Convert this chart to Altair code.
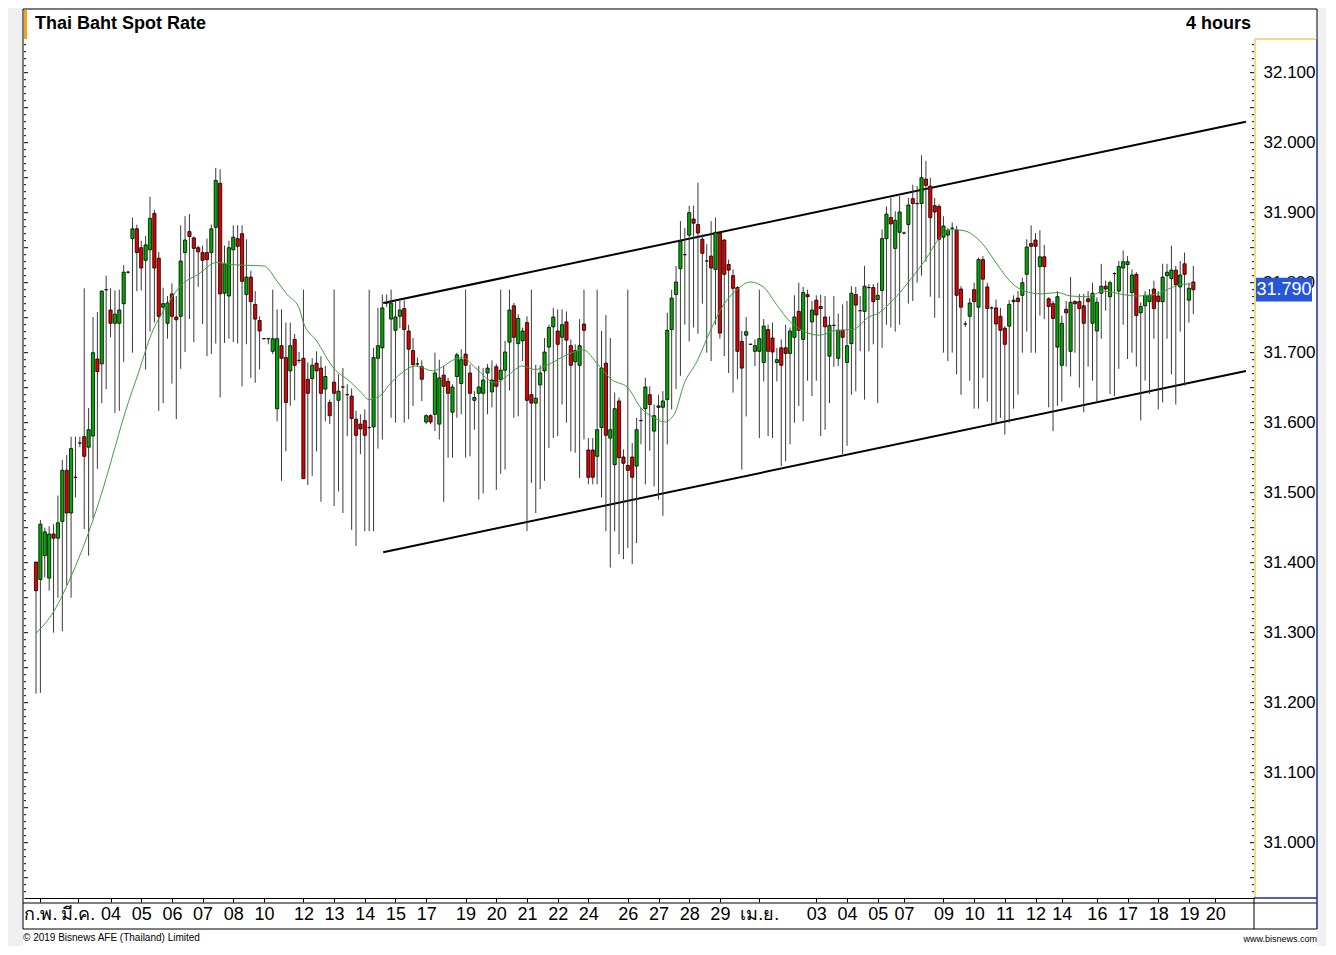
import altair as alt
import pandas as pd
import numpy as np

# ---------------- data ----------------
opens = [31.401,31.376,31.410,31.378,31.441,31.435,31.459,31.532,31.471,31.522,
         31.571,31.580,31.565,31.581,31.691,31.684,31.790,31.761,31.742,31.742,
         31.770,31.815,31.863,31.877,31.850,31.832,31.847,31.899,31.835,31.765,
         31.742,31.784,31.751,31.752,31.843,31.873,31.864,31.850,31.843,31.843,
         31.843,31.879,31.942,31.785,31.781,31.847,31.863,31.870,31.783,31.808,
         31.769,31.746,31.720,31.720,31.702,31.620,31.710,31.693,31.674,31.719,
         31.689,31.692,31.662,31.663,31.685,31.678,31.648,31.629,31.658,31.632,
         31.651,31.640,31.638,31.605,31.598,31.603,31.593,31.594,31.692,31.707,
         31.771,31.748,31.732,31.752,31.763,31.731,31.703,31.684,31.680,31.601,
         31.610,31.612,31.598,31.668,31.659,31.615,31.666,31.656,31.698,31.671,
         31.632,31.642,31.642,31.671,31.644,31.680,31.662,31.675,31.715,31.767,
         31.713,31.717,31.743,31.640,31.628,31.654,31.674,31.708,31.737,31.731,
         31.722,31.744,31.710,31.687,31.682,31.741,31.561,31.561,31.552,31.593,
         31.685,31.578,31.540,31.631,31.551,31.539,31.551,31.538,31.603,31.620,
         31.640,31.588,31.624,31.622,31.633,31.733,31.783,31.820,31.840,31.868,
         31.891,31.883,31.862,31.831,31.838,31.819,31.871,31.861,31.826,31.810,
         31.793,31.716,31.725,31.712,31.702,31.702,31.686,31.733,31.721,31.686,
         31.707,31.707,31.699,31.722,31.759,31.719,31.783,31.744,31.775,31.766,
         31.751,31.695,31.739,31.692,31.732,31.686,31.713,31.783,31.760,31.759,
         31.793,31.793,31.776,31.789,31.863,31.893,31.849,31.872,31.871,31.883,
         31.920,31.913,31.913,31.948,31.938,31.910,31.909,31.865,31.868,31.878,
         31.875,31.791,31.741,31.752,31.790,31.765,31.833,31.794,31.764,31.764,
         31.752,31.735,31.738,31.773,31.778,31.782,31.812,31.856,31.861,31.823,
         31.837,31.777,31.770,31.708,31.682,31.762,31.702,31.773,31.773,31.767,
         31.777,31.742,31.731,31.785,31.795,31.780,31.813,31.788,31.821,31.826,
         31.786,31.812,31.757,31.767,31.773,31.791,31.781,31.773,31.810,31.806,
         31.818,31.794,31.827,31.775,31.801]
highs = [31.401,31.461,31.450,31.452,31.455,31.496,31.547,31.554,31.580,31.580,
         31.580,31.792,31.621,31.751,31.758,31.789,31.810,31.792,31.789,31.790,
         31.825,31.817,31.893,31.883,31.860,31.867,31.923,31.904,31.844,31.793,
         31.781,31.799,31.781,31.882,31.895,31.898,31.866,31.853,31.853,31.863,
         31.883,31.964,31.962,31.853,31.860,31.882,31.882,31.882,31.862,31.817,
         31.788,31.752,31.721,31.720,31.790,31.762,31.762,31.743,31.743,31.727,
         31.701,31.790,31.686,31.692,31.702,31.695,31.681,31.633,31.790,31.669,
         31.678,31.655,31.649,31.617,31.612,31.619,31.790,31.707,31.764,31.783,
         31.783,31.790,31.776,31.774,31.775,31.740,31.721,31.693,31.689,31.612,
         31.612,31.700,31.690,31.681,31.664,31.655,31.700,31.705,31.790,31.683,
         31.645,31.681,31.678,31.684,31.689,31.684,31.790,31.717,31.790,31.771,
         31.755,31.736,31.752,31.790,31.683,31.682,31.721,31.740,31.764,31.762,
         31.762,31.759,31.719,31.712,31.748,31.790,31.578,31.578,31.790,31.731,
         31.754,31.721,31.643,31.636,31.562,31.790,31.571,31.607,31.621,31.664,
         31.652,31.626,31.640,31.645,31.757,31.790,31.824,31.888,31.878,31.910,
         31.910,31.943,31.869,31.855,31.888,31.893,31.874,31.862,31.833,31.819,
         31.795,31.731,31.751,31.713,31.719,31.790,31.748,31.740,31.743,31.707,
         31.719,31.740,31.736,31.782,31.800,31.794,31.790,31.774,31.782,31.783,
         31.781,31.752,31.781,31.756,31.769,31.774,31.795,31.794,31.781,31.824,
         31.798,31.798,31.800,31.876,31.909,31.921,31.902,31.924,31.873,31.921,
         31.940,31.938,31.982,31.974,31.950,31.921,31.912,31.895,31.878,31.886,
         31.881,31.795,31.745,31.778,31.800,31.836,31.838,31.800,31.766,31.776,
         31.764,31.738,31.775,31.782,31.788,31.807,31.862,31.882,31.871,31.875,
         31.854,31.779,31.774,31.788,31.753,31.774,31.808,31.775,31.784,31.784,
         31.788,31.800,31.779,31.827,31.803,31.803,31.815,31.831,31.846,31.838,
         31.819,31.815,31.772,31.788,31.791,31.803,31.788,31.827,31.827,31.853,
         31.824,31.831,31.843,31.800,31.824]
lows = [31.213,31.214,31.379,31.360,31.300,31.350,31.302,31.368,31.350,31.493,
        31.565,31.448,31.410,31.463,31.534,31.628,31.648,31.722,31.614,31.617,
        31.687,31.813,31.700,31.788,31.789,31.676,31.730,31.743,31.617,31.628,
        31.720,31.656,31.605,31.677,31.701,31.748,31.715,31.794,31.741,31.695,
        31.698,31.713,31.636,31.714,31.720,31.715,31.713,31.652,31.712,31.664,
        31.657,31.676,31.719,31.712,31.698,31.602,31.517,31.559,31.624,31.632,
        31.685,31.520,31.511,31.524,31.559,31.487,31.602,31.598,31.481,31.502,
        31.471,31.581,31.447,31.424,31.555,31.445,31.445,31.445,31.563,31.576,
        31.765,31.607,31.600,31.735,31.600,31.605,31.624,31.680,31.631,31.598,
        31.598,31.588,31.576,31.487,31.550,31.550,31.607,31.612,31.550,31.552,
        31.590,31.490,31.499,31.612,31.622,31.504,31.527,31.533,31.646,31.607,
        31.609,31.688,31.445,31.514,31.471,31.505,31.517,31.564,31.578,31.581,
        31.626,31.600,31.559,31.557,31.521,31.576,31.512,31.512,31.512,31.493,
        31.445,31.393,31.445,31.412,31.405,31.421,31.398,31.428,31.569,31.512,
        31.560,31.509,31.490,31.467,31.569,31.619,31.648,31.667,31.740,31.716,
        31.736,31.727,31.770,31.700,31.688,31.740,31.720,31.695,31.671,31.643,
        31.662,31.533,31.609,31.711,31.681,31.578,31.659,31.581,31.578,31.659,
        31.538,31.545,31.569,31.600,31.624,31.602,31.660,31.638,31.660,31.581,
        31.590,31.628,31.680,31.681,31.555,31.567,31.640,31.645,31.702,31.633,
        31.702,31.712,31.628,31.707,31.740,31.736,31.730,31.740,31.869,31.770,
        31.774,31.800,31.810,31.830,31.780,31.750,31.778,31.700,31.688,31.700,
        31.669,31.640,31.737,31.660,31.620,31.620,31.664,31.630,31.600,31.600,
        31.607,31.583,31.600,31.620,31.640,31.700,31.730,31.700,31.700,31.753,
        31.748,31.622,31.588,31.624,31.630,31.680,31.666,31.700,31.650,31.615,
        31.680,31.660,31.629,31.720,31.760,31.641,31.638,31.677,31.740,31.691,
        31.700,31.680,31.603,31.660,31.641,31.720,31.619,31.629,31.720,31.669,
        31.626,31.730,31.653,31.743,31.755]
closes = [31.360,31.455,31.444,31.441,31.435,31.457,31.532,31.471,31.563,31.522,
          31.571,31.552,31.590,31.700,31.673,31.788,31.790,31.742,31.755,31.761,
          31.815,31.815,31.877,31.843,31.821,31.854,31.892,31.821,31.752,31.770,
          31.771,31.752,31.747,31.831,31.861,31.866,31.849,31.844,31.832,31.833,
          31.877,31.946,31.784,31.827,31.850,31.865,31.852,31.802,31.808,31.773,
          31.748,31.731,31.720,31.720,31.720,31.720,31.692,31.629,31.710,31.682,
          31.689,31.520,31.642,31.682,31.674,31.642,31.666,31.610,31.642,31.645,
          31.651,31.640,31.606,31.582,31.591,31.582,31.593,31.693,31.710,31.764,
          31.771,31.771,31.751,31.761,31.733,31.705,31.683,31.684,31.662,31.610,
          31.601,31.671,31.664,31.652,31.642,31.651,31.697,31.690,31.682,31.642,
          31.636,31.651,31.661,31.678,31.661,31.652,31.675,31.701,31.761,31.722,
          31.749,31.731,31.632,31.628,31.635,31.671,31.701,31.736,31.751,31.712,
          31.740,31.718,31.682,31.703,31.710,31.732,31.522,31.522,31.590,31.678,
          31.582,31.590,31.620,31.550,31.542,31.532,31.522,31.590,31.603,31.651,
          31.626,31.610,31.622,31.631,31.732,31.778,31.801,31.859,31.840,31.900,
          31.885,31.871,31.842,31.831,31.821,31.872,31.728,31.812,31.818,31.792,
          31.702,31.678,31.730,31.712,31.710,31.720,31.738,31.702,31.701,31.690,
          31.682,31.699,31.731,31.751,31.732,31.786,31.780,31.761,31.754,31.763,
          31.737,31.739,31.739,31.732,31.722,31.710,31.785,31.768,31.760,31.795,
          31.793,31.773,31.782,31.863,31.898,31.884,31.889,31.901,31.871,31.911,
          31.913,31.913,31.950,31.939,31.893,31.901,31.862,31.881,31.875,31.878,
          31.782,31.765,31.741,31.771,31.773,31.833,31.805,31.763,31.764,31.741,
          31.732,31.712,31.769,31.775,31.773,31.800,31.851,31.852,31.852,31.837,
          31.823,31.766,31.749,31.780,31.742,31.757,31.772,31.770,31.763,31.742,
          31.773,31.785,31.772,31.795,31.791,31.800,31.813,31.823,31.830,31.830,
          31.811,31.753,31.766,31.782,31.782,31.763,31.773,31.808,31.815,31.818,
          31.797,31.811,31.812,31.792,31.790]

# moving average (read at points along the green line), candle index / rate
ma_x = [0, 4.1, 7.9, 11.7, 15.5, 17.3, 20.4, 23.4, 26.4, 29.4, 33.2, 37, 41.2, 44.5,
        47.2, 52, 55, 57.3, 60, 61, 64, 67.9, 71.6, 73.9, 76, 78.4, 80.7, 83, 86.7,
        90.5, 93.5, 95, 97.3, 100.3, 104.8, 107.9, 110.9, 113.9, 116.9, 121.4, 124.8,
        128.2, 131.2, 135, 138, 141, 143.3, 145.6, 147.8, 150.8, 153.8, 156.9, 159.9,
        162.9, 165.9, 168.9, 171.9, 175, 178.7, 182.5, 186.3, 190, 192.3, 195.3, 199.8,
        202.9, 205.9, 208.9, 211.9, 215.7, 219.5, 222.5, 225.5, 229.3, 233, 236, 239.8,
        243.6, 248.1, 251.1, 255.7, 258.7, 261.7, 264]
ma_y = [31.299, 31.331, 31.379, 31.438, 31.510, 31.549, 31.616, 31.672, 31.728, 31.763,
        31.797, 31.812, 31.829, 31.826, 31.825, 31.824, 31.802, 31.783, 31.764, 31.743,
        31.717, 31.678, 31.659, 31.645, 31.633, 31.638, 31.655, 31.669, 31.681, 31.674,
        31.683, 31.689, 31.693, 31.678, 31.657, 31.669, 31.681, 31.676, 31.683, 31.698,
        31.704, 31.683, 31.662, 31.650, 31.621, 31.607, 31.601, 31.612, 31.655, 31.688,
        31.731, 31.769, 31.790, 31.801, 31.794, 31.769, 31.745, 31.731, 31.725, 31.732,
        31.733, 31.751, 31.757, 31.774, 31.807, 31.833, 31.862, 31.876, 31.874, 31.857,
        31.824, 31.800, 31.788, 31.784, 31.786, 31.781, 31.780, 31.788, 31.783, 31.781,
        31.784, 31.792, 31.798, 31.798]

# trend channel lines (candle index / rate at both ends)
chan_x = [79.2, 276.0]
upper_y = [31.771, 32.030]
lower_y = [31.415, 31.674]

# axis labels
price_ticks = [31.0, 31.1, 31.2, 31.3, 31.4, 31.5, 31.6, 31.7, 31.8, 31.9, 32.0, 32.1]
date_pos = [1, 9.5, 17, 24, 31, 38, 45, 52, 61, 68, 75, 82, 89, 98, 105, 112, 119, 126,
            135, 142, 149, 156, 165, 178, 185, 192, 198, 207, 214, 221, 228, 234, 242,
            249, 256, 263, 269]
date_lab = ["ก.พ.", "มี.ค.", "04", "05", "06", "07", "08", "10", "12", "13", "14", "15",
            "17", "19", "20", "21", "22", "24", "26", "27", "28", "29", "เม.ย.", "03",
            "04", "05", "07", "09", "10", "11", "12", "14", "16", "17", "18", "19", "20"]
last_price = 31.790
title_text = "Thai Baht Spot Rate"
period_text = "4 hours"
copyright_text = "© 2019 Bisnews AFE (Thailand) Limited"
site_text = "www.bisnews.com"

# ---------------- chart ----------------
W, H = 1230, 889
FONT = "Liberation Sans, Arial, Helvetica, sans-serif"
LBL = 17
GREEN, RED, MA = "#00a800", "#e00000", "#3f9f3f"

n = len(opens)
df = pd.DataFrame({"i": np.arange(n), "open": opens, "high": highs,
                   "low": lows, "close": closes})
df["dir"] = np.where(df["close"] >= df["open"], "up", "down")

xs = alt.Scale(domain=[-1.6, 276.7], nice=False, zero=False)
ys = alt.Scale(domain=[30.921, 32.191], nice=False, zero=False)

# the label hidden under the last-price tag is drawn as a mark (so the tag covers it)
axis_prices = [p for p in price_ticks if abs(p - last_price) > 0.02]
hidden_prices = [p for p in price_ticks if abs(p - last_price) <= 0.02]

label_expr = " : ".join(f"datum.value == {p} ? '{t}'" for p, t in zip(date_pos, date_lab)) + " : ''"
xaxis = alt.Axis(values=date_pos, labelExpr=label_expr, title=None, grid=False,
                 tickSize=4, tickColor="black", domainColor="black", domainWidth=1,
                 labelFont=FONT, labelFontSize=LBL + 1, labelColor="black", labelPadding=3,
                 labelOverlap=False, labelFlush=False, labelBound=False, zindex=1)
yaxis = alt.Axis(orient="right", values=axis_prices, format=".3f", title=None, grid=False,
                 ticks=False, domain=False, labelFont=FONT, labelFontSize=LBL,
                 labelColor="black", labelPadding=9, labelAlign="left",
                 labelOverlap=False, zindex=1)

X = lambda f: alt.X(f, scale=xs, axis=xaxis)
Y = lambda f: alt.Y(f, scale=ys, axis=yaxis)

one = pd.DataFrame({"a": [0]})

bg = alt.Chart(one).mark_rect(color="white").encode(
    x=alt.value(-1), x2=alt.value(W + 63), y=alt.value(0), y2=alt.value(H + 48))

# small scale ticks along both vertical edges (below the title band)
tv = np.round(np.arange(30.93, 32.145, 0.01), 2)
minor_v = [v for v in tv if round(v * 100) % 5 != 0]
major_v = [v for v in tv if round(v * 100) % 5 == 0]
minor_df = pd.DataFrame({"v": minor_v})
major_df = pd.DataFrame({"v": major_v})
tick_layers = []
for d, ln in ((minor_df, 2), (major_df, 4)):
    tick_layers.append(alt.Chart(d).mark_rule(color="black", strokeWidth=1).encode(
        y=Y("v:Q"), x=alt.value(W - ln), x2=alt.value(W)))
    tick_layers.append(alt.Chart(d).mark_rule(color="black", strokeWidth=1).encode(
        y=Y("v:Q"), x=alt.value(0), x2=alt.value(ln)))

chan_df = pd.DataFrame({"i": chan_x * 2, "v": upper_y + lower_y,
                        "g": ["u", "u", "l", "l"]})
channel = alt.Chart(chan_df).mark_line(color="black", strokeWidth=2).encode(
    x=X("i:Q"), y=Y("v:Q"), detail="g:N")

wick = alt.Chart(df).mark_rule(color="#3a3a3a", strokeWidth=1).encode(
    x=X("i:Q"), y=Y("low:Q"), y2="high:Q")
body = alt.Chart(df).mark_bar(size=3.2, stroke="black", strokeWidth=0.8).encode(
    x=X("i:Q"), y=alt.Y("open:Q", scale=ys, axis=yaxis, stack=None), y2="close:Q",
    color=alt.Color("dir:N", scale=alt.Scale(domain=["up", "down"], range=[GREEN, RED]),
                    legend=None))

ma_df = pd.DataFrame({"i": ma_x, "v": ma_y})
ma = alt.Chart(ma_df).mark_line(color=MA, strokeWidth=1, interpolate="monotone").encode(
    x=X("i:Q"), y=Y("v:Q"))

hid_df = pd.DataFrame({"v": hidden_prices, "t": [f"{p:.3f}" for p in hidden_prices]})
hidden_lbl = alt.Chart(hid_df).mark_text(color="black", font=FONT, fontSize=LBL,
                                         align="left", baseline="middle").encode(
    y=Y("v:Q"), text="t:N", x=alt.value(W + 9))

tag_df = pd.DataFrame({"v": [last_price], "t": [f"{last_price:.3f}"]})
tag_box = alt.Chart(tag_df).transform_calculate(
    hi="datum.v + 0.017", lo="datum.v - 0.017").mark_rect(color="#2856d8").encode(
    y=Y("hi:Q"), y2="lo:Q", x=alt.value(W + 2), x2=alt.value(W + 58))
tag_txt = alt.Chart(tag_df).mark_text(color="white", font=FONT, fontSize=LBL + 1,
                                      align="center", baseline="middle").encode(
    y=Y("v:Q"), text="t:N", x=alt.value(W + 30))


def hline(x1, x2, y, color="black", w=1):
    return alt.Chart(one).mark_rule(color=color, strokeWidth=w).encode(
        x=alt.value(x1), x2=alt.value(x2), y=alt.value(y))


def vline(x, y1, y2, color="black", w=1):
    return alt.Chart(one).mark_rule(color=color, strokeWidth=w).encode(
        x=alt.value(x), y=alt.value(y1), y2=alt.value(y2))


frame = [
    hline(-1, W + 63, 0),
    vline(-1, 0, H + 31),
    vline(W + 63, 0, 30),
    hline(-1, W + 63, H + 31),
    hline(-1, W, H + 5),
    vline(W, H, H + 31),
    hline(W, W + 63, H + 5),
    vline(W + 1, 30, H, "#f4c75c", 1.5),
    hline(W + 1, W + 63, 30, "#f4c75c", 1.5),
    vline(W + 63, 30, H + 31, "#1f2f80", 1.5),
    hline(W, W + 63, H, "#1f2f80", 1.5),
]

orange = alt.Chart(one).mark_rect(color="#f7a11a").encode(
    x=alt.value(0), x2=alt.value(3), y=alt.value(1), y2=alt.value(30))


def label(txt, x, y, size, align="left", bold=False):
    return alt.Chart(pd.DataFrame({"t": [txt]})).mark_text(
        font=FONT, fontSize=size, fontWeight="bold" if bold else "normal",
        align=align, baseline="middle", color="black").encode(
        x=alt.value(x), y=alt.value(y), text="t:N")


texts = [
    label(title_text, 11, 15, 18, bold=True),
    label(period_text, 1227, 15, 18, align="right", bold=True),
    label(copyright_text, -1, H + 40, 10),
    label(site_text, W + 63, H + 41, 9, align="right"),
]

chart = alt.layer(bg, *tick_layers, channel, wick, body, ma, hidden_lbl, tag_box, tag_txt,
                  *frame, orange, *texts).properties(
    width=W, height=H,
    padding={"left": 14, "top": 0, "right": 8, "bottom": 0},
).configure(background="#f0f0f0").configure_view(stroke=None)

chart.save("out.html", embed_options={"renderer": "svg", "actions": False})
